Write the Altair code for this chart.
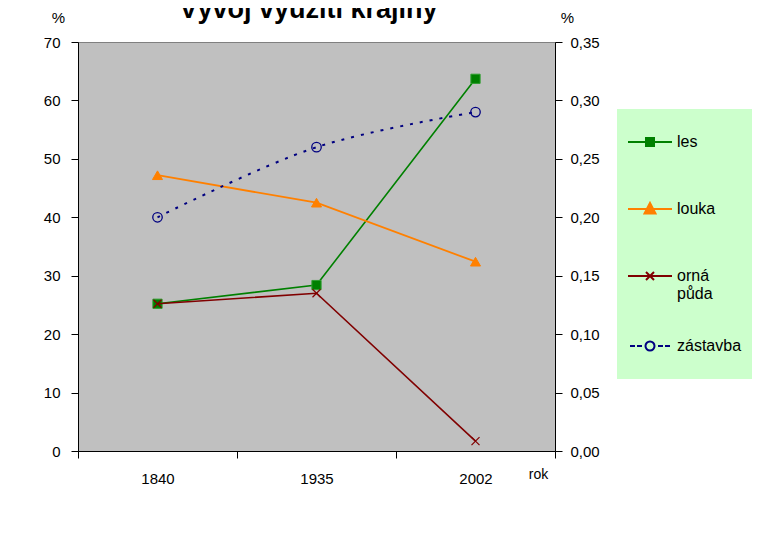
import altair as alt
import pandas as pd

# ---------------- data ----------------
years = ["1840", "1935", "2002"]
les = [25.2, 28.4, 63.7]
louka = [47.2, 42.5, 32.4]
orna_puda = [25.2, 27.0, 1.7]
zastavba = [0.200, 0.260, 0.290]

series_names = ["les", "louka", "orná půda", "zástavba"]
series_colors = ["#008000", "#FF8000", "#800000", "#000080"]

left_ticks = [0, 10, 20, 30, 40, 50, 60, 70]
right_ticks = [0.0, 0.05, 0.10, 0.15, 0.20, 0.25, 0.30, 0.35]

FONT = "Liberation Sans, Arial, sans-serif"

left_df = pd.DataFrame({
    "rok": years * 3,
    "serie": ["les"] * 3 + ["louka"] * 3 + ["orná půda"] * 3,
    "hodnota": les + louka + orna_puda,
})
right_df = pd.DataFrame({"rok": years, "serie": ["zástavba"] * 3, "hodnota": zastavba})
legend_df = pd.concat([left_df, right_df], ignore_index=True)

# ---------------- legend symbols (line + marker) ----------------
U = 22.0  # px per symbol unit


def p(x, y):
    return f"{x / U:.3f},{y / U:.3f}"


def line_path():
    return f"M{p(-22, 0)}L{p(22, 0)}"


def square_path():
    s = line_path()
    s += f"M{p(-4, -4)}L{p(4, -4)}L{p(4, 4)}L{p(-4, 4)}Z"
    y = -3.0
    while y <= 3.01:
        s += f"M{p(-4, y)}L{p(4, y)}"
        y += 1.5
    return s


def triangle_path():
    s = line_path()
    s += f"M{p(0, -6)}L{p(5.5, 4.5)}L{p(-5.5, 4.5)}Z"
    y = -4.5
    while y <= 4.01:
        w = 5.5 * (y + 6) / 10.5
        s += f"M{p(-w, y)}L{p(w, y)}"
        y += 1.5
    return s


def x_path():
    s = line_path()
    s += f"M{p(-4, -4)}L{p(4, 4)}M{p(-4, 4)}L{p(4, -4)}"
    return s


def circle_dash_path():
    s = ""
    for a, b in [(-20, -15), (-13, -8), (8, 13), (15, 20)]:
        s += f"M{p(a, 0)}L{p(b, 0)}"
    r = 4.5
    s += f"M{p(r, 0)}A{r / U:.3f},{r / U:.3f},0,1,1,{p(-r, 0)}A{r / U:.3f},{r / U:.3f},0,1,1,{p(r, 0)}"
    return s


legend_shapes = [square_path(), triangle_path(), x_path(), circle_dash_path()]

# ---------------- encodings ----------------
x_enc = alt.X(
    "rok:O",
    sort=years,
    bandPosition=0.5,
    scale=alt.Scale(type="band", domain=years, paddingInner=0, paddingOuter=0),
    axis=alt.Axis(
        title="rok", titleX=460, titleY=23, titleAlign="center", titleBaseline="middle",
        titleFontWeight="normal", titleFontSize=14, titleFont=FONT,
        tickBand="extent", labelAngle=0, tickSize=7, labelPadding=13,
        labelFontSize=15, labelFont=FONT, grid=False,
    ),
)

y_left = alt.Y(
    "hodnota:Q",
    scale=alt.Scale(domain=[0, 70], nice=False, zero=True),
    axis=alt.Axis(
        orient="left", values=left_ticks, format="d", title="%", titleAngle=0,
        titleX=-20, titleY=-25, titleAlign="center", titleBaseline="middle",
        titleFontWeight="normal", titleFontSize=15, titleFont=FONT,
        tickSize=7, labelPadding=11, labelFontSize=15, labelFont=FONT, grid=False,
    ),
)

y_right = alt.Y(
    "hodnota:Q",
    scale=alt.Scale(domain=[0, 0.35], nice=False, zero=True),
    axis=alt.Axis(
        orient="right", values=right_ticks,
        labelExpr="replace(format(datum.value, '.2f'), '.', ',')",
        title="%", titleAngle=0, titleX=12, titleY=-25, titleAlign="center",
        titleBaseline="middle", titleFontWeight="normal", titleFontSize=15, titleFont=FONT,
        tickSize=7, labelPadding=8, labelFontSize=15, labelFont=FONT, grid=False,
    ),
)


def series_layers(df, name, color, y_enc, line_kw, point_kw):
    base = alt.Chart(df).transform_filter(alt.datum.serie == name)
    ln = base.mark_line(color=color, **line_kw).encode(x=x_enc, y=y_enc)
    pt = base.mark_point(**point_kw).encode(x=x_enc, y=y_enc)
    return [ln, pt]


left_layers = []
left_layers += series_layers(
    left_df, "les", "#008000", y_left, dict(strokeWidth=1.6),
    dict(shape="square", filled=True, fill="#008000", stroke="#2E9E2E", strokeWidth=1, size=85, opacity=1),
)
left_layers += series_layers(
    left_df, "louka", "#FF8000", y_left, dict(strokeWidth=1.8),
    dict(shape="triangle-up", filled=True, fill="#FF8000", stroke="#FF8000", strokeWidth=1, size=100, opacity=1),
)
left_layers += series_layers(
    left_df, "orná půda", "#800000", y_left, dict(strokeWidth=1.6),
    dict(shape="M-1,-1L1,1M-1,1L1,-1", filled=False, stroke="#800000", strokeWidth=1.2, size=64, opacity=1),
)

legend_def = alt.Legend(
    title=None, orient="none", legendX=539, legendY=67,
    fillColor="#CCFFCC", padding=10, rowPadding=21, clipHeight=46,
    symbolSize=1936, symbolStrokeWidth=2, symbolOpacity=1,
    labelFont=FONT, labelFontSize=16, labelColor="black", labelOffset=4, labelLimit=300,
    labelExpr="datum.label == 'orná půda' ? ['orná', 'půda'] : datum.label",
)

legend_layer = alt.Chart(legend_df).mark_point(filled=False, opacity=0).encode(
    x=x_enc,
    y=y_left,
    color=alt.Color("serie:N", scale=alt.Scale(domain=series_names, range=series_colors), legend=legend_def),
    shape=alt.Shape("serie:N", scale=alt.Scale(domain=series_names, range=legend_shapes), legend=legend_def),
)

left_group = alt.layer(*left_layers, legend_layer)

right_group = alt.layer(*series_layers(
    right_df, "zástavba", "#000080", y_right,
    dict(strokeWidth=2, strokeDash=[3, 7], interpolate="catmull-rom"),
    dict(shape="circle", filled=False, stroke="#000080", strokeWidth=1.3, size=90, opacity=1),
))

chart = (
    alt.layer(left_group, right_group)
    .resolve_scale(y="independent")
    .properties(
        width=477,
        height=409,
        background="white",
        autosize=alt.AutoSizeParams(type="none"),
        padding={"left": 70, "top": 34, "right": 197, "bottom": 74},
        title=alt.TitleParams(
            "Vývoj využití krajiny", font=FONT, fontSize=27, fontWeight="bold",
            color="black", anchor="middle", frame="group", baseline="alphabetic",
            offset=0, dx=-8, dy=35,
        ),
    )
    .configure_view(fill="#C0C0C0", stroke="#808080", strokeWidth=1)
    .configure_axis(domainColor="black", tickColor="black", labelColor="black", titleColor="black")
)

chart.save("out.html", embed_options={"renderer": "svg", "actions": False})
